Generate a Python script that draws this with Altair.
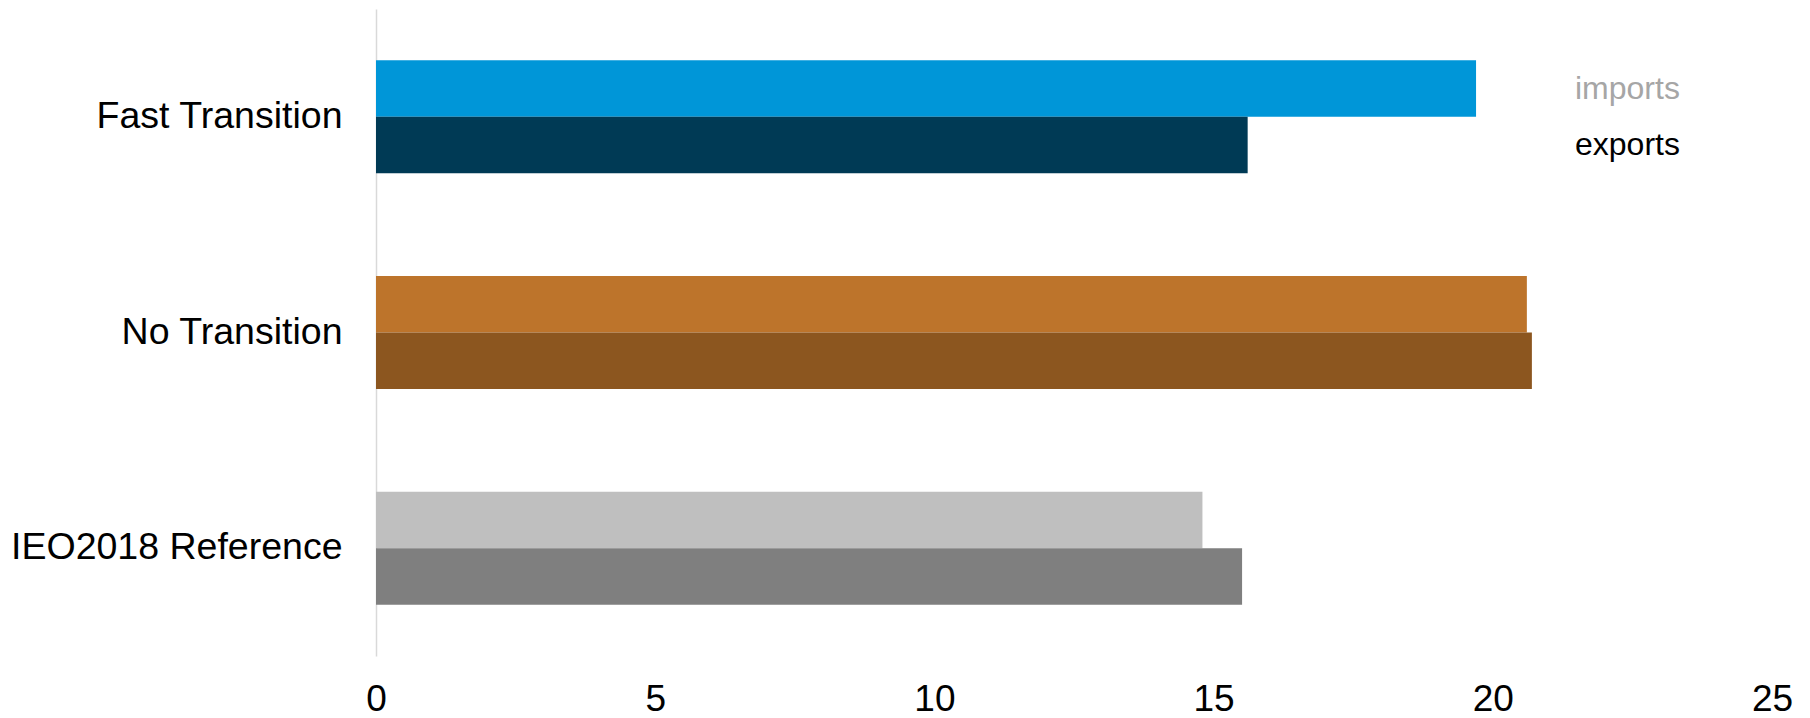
import altair as alt
import pandas as pd

scenarios = ["Fast Transition", "No Transition", "IEO2018 Reference"]
series = ["imports", "exports"]
imports_vals = [19.70, 20.61, 14.80]
exports_vals = [15.61, 20.70, 15.51]

bar_colors = {
    ("Fast Transition", "imports"): "#0096D8",
    ("Fast Transition", "exports"): "#003A55",
    ("No Transition", "imports"): "#BD742B",
    ("No Transition", "exports"): "#8C561F",
    ("IEO2018 Reference", "imports"): "#BFBFBF",
    ("IEO2018 Reference", "exports"): "#7F7F7F",
}
legend_colors = ["#A6A6A6", "#000000"]

rows = []
for s, iv, ev in zip(scenarios, imports_vals, exports_vals):
    rows.append({"scenario": s, "series": "imports", "value": iv, "key": s + "|imports"})
    rows.append({"scenario": s, "series": "exports", "value": ev, "key": s + "|exports"})
df = pd.DataFrame(rows)

key_domain = [s + "|" + t for s in scenarios for t in series]
key_range = [bar_colors[(s, t)] for s in scenarios for t in series]

legend_df = pd.DataFrame({"scenario": [scenarios[0]] * 2, "series": series})

FONT = "Liberation Sans"

y_enc = alt.Y(
    "scenario:N",
    sort=scenarios,
    scale=alt.Scale(domain=scenarios, paddingInner=0.476, paddingOuter=0.238),
    axis=alt.Axis(
        title=None,
        ticks=False,
        domain=True,
        domainColor="#D9D9D9",
        domainWidth=1.5,
        labelFont=FONT,
        labelFontSize=37.5,
        labelColor="#000000",
        labelPadding=34,
        labelLimit=0,
        grid=False,
    ),
)
yoff_enc = alt.YOffset("series:N", sort=series, scale=alt.Scale(domain=series, paddingInner=0, paddingOuter=0))

bars = alt.Chart(df).mark_bar(size=56.5).encode(
    x=alt.X(
        "value:Q",
        scale=alt.Scale(domain=[0, 25], nice=False),
        axis=alt.Axis(
            title=None,
            values=[0, 5, 10, 15, 20, 25],
            ticks=False,
            domain=False,
            grid=False,
            labelFont=FONT,
            labelFontSize=37,
            labelColor="#000000",
            labelPadding=25,
            labelFlush=False,
        ),
    ),
    y=y_enc,
    yOffset=yoff_enc,
    color=alt.Color("key:N", scale=alt.Scale(domain=key_domain, range=key_range), legend=None),
)

legend_text = alt.Chart(legend_df).mark_text(
    align="left", baseline="middle", font=FONT, fontSize=32
).encode(
    x=alt.value(1199),
    y=alt.Y("scenario:N", sort=scenarios),
    yOffset=alt.YOffset("series:N", sort=series),
    text="series:N",
    color=alt.Color("series:N", scale=alt.Scale(domain=series, range=legend_colors), legend=None),
)

chart = alt.layer(bars, legend_text).resolve_scale(color="independent").properties(
    width=1396,
    height=647,
    autosize=alt.AutoSizeParams(type="none"),
    padding={"left": 376, "top": 9, "right": 38, "bottom": 62},
    background="white",
).configure_view(stroke=None)

chart.save("out.html", embed_options={"renderer": "svg", "actions": False})
